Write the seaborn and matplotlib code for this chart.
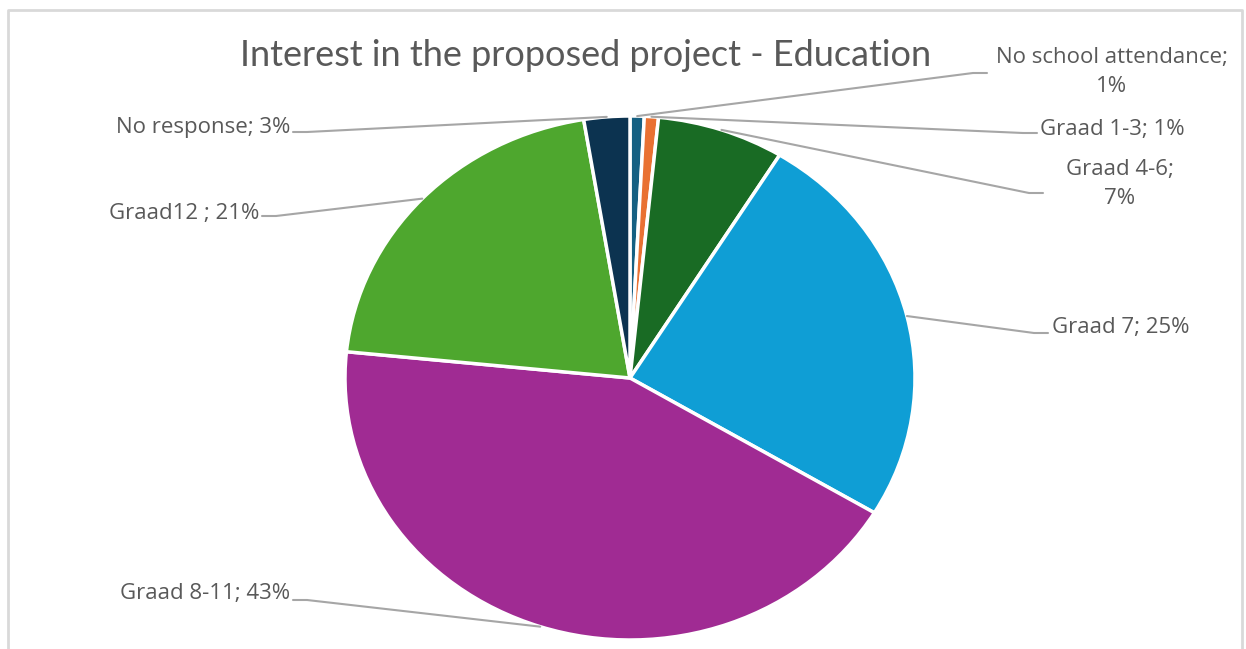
import numpy as np
import matplotlib
matplotlib.use("Agg")
import matplotlib.pyplot as plt
import seaborn as sns

# ---- data ----
categories = ["No school attendance", "Graad 1-3", "Graad 4-6", "Graad 7",
              "Graad 8-11", "Graad12 ", "No response"]
values = [0.8, 0.8, 7.2, 24.8, 43.0, 20.8, 2.6]
pct_labels = ["1%", "1%", "7%", "25%", "43%", "21%", "3%"]
colors = ["#156082", "#E97132", "#196B24", "#0F9ED5", "#A02B93", "#4EA72E", "#0C3350"]
title = "Interest in the proposed project - Education"

sns.set_theme(style="white")
plt.rcParams['font.family'] = ['Open Sans', 'DejaVu Sans']

W, H = 1246, 649
fig = plt.figure(figsize=(W / 100, H / 100), dpi=100)
ax = fig.add_axes([0, 0, 1, 1])

# pie geometry in pixels (image coords)
CX, CY, RX, RY = 630, 378, 285, 262

def dx(px):
    return (px - CX) / RX

def dy(py):
    return (CY - py) / RY

ax.pie(values, colors=colors, startangle=90, counterclock=False,
       wedgeprops=dict(edgecolor="white", linewidth=2.5))
ax.set_aspect("auto")
ax.set_xlim(dx(0), dx(W))
ax.set_ylim(dy(H), dy(0))
ax.axis("off")

# frame
fc = "#d9d9d9"
ax.plot([dx(8), dx(8), dx(1242), dx(1242)], [dy(H), dy(10), dy(10), dy(H)],
        color=fc, lw=2, clip_on=False)

ax.text(dx(586), dy(56), title, ha="center", va="center",
        fontsize=26, color="#595959", family=['Lato', 'DejaVu Sans'])

# label layout: (text x, text y, ha, leader end x, leader end y, side, two lines)
layout = [
    (1112, 72, "center", 987, 73, "r", True),
    (1040, 129, "left", 1037, 133, "r", False),
    (1120, 184, "center", 1043, 193, "r", True),
    (1052, 328, "left", 1048, 333, "r", False),
    (290, 594, "right", 293, 600, "l", False),
    (259, 213, "right", 262, 216, "l", False),
    (290, 128, "right", 293, 132, "l", False),
]

cum = np.cumsum([0] + values)
total = cum[-1]
lc = "#a6a6a6"
for i, (cat, pl) in enumerate(zip(categories, pct_labels)):
    tx, ty, ha, ex, ey, side, two = layout[i]
    mid = (cum[i] + cum[i + 1]) / 2 / total * 2 * np.pi
    ax_, ay_ = np.sin(mid), np.cos(mid)
    elbow = ex - 14 if side == "r" else ex + 14
    ax.plot([ax_, dx(elbow), dx(ex)], [ay_, dy(ey), dy(ey)], color=lc, lw=1.5)
    txt = f"{cat};\n{pl}" if two else f"{cat}; {pl}"
    ax.text(dx(tx), dy(ty), txt, ha=ha, va="center", fontsize=16,
            color="#595959", linespacing=1.45, multialignment="center")

fig.savefig("out.png", dpi=100)
